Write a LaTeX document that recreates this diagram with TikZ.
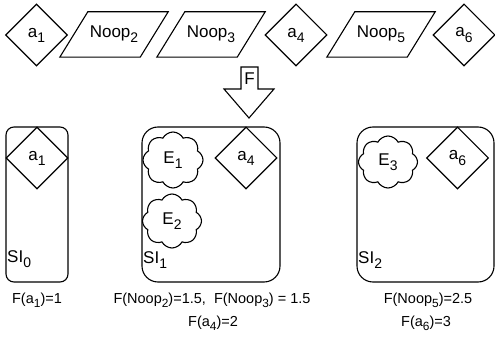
\documentclass[tikz,border=0pt]{standalone}
\usepackage{fontspec}
\usepackage{graphicx}
\setmainfont{Liberation Sans}
\usetikzlibrary{shapes.geometric,shapes.symbols}
\newcommand{\sbx}[1]{\raisebox{-0.3em}{\scalebox{0.82}{#1}}}
\tikzset{
  lw/.style={line width=1.1pt},
  base/.style={draw, lw, inner sep=0pt, font=\fontsize{17}{19}\selectfont},
  act/.style={base, diamond, minimum width=62pt, minimum height=62pt},
  noop/.style={inner sep=0pt, minimum width=80pt, minimum height=45pt, font=\fontsize{17}{19}\selectfont},
  sibox/.style={draw, lw, inner sep=0pt, rounded corners=16pt},
  ev/.style={base, cloud, cloud puffs=8, cloud puff arc=125, aspect=1.1},
  silab/.style={anchor=west, inner sep=1pt, font=\fontsize{17}{19}\selectfont},
  ftxt/.style={inner sep=0pt, font=\fontsize{14.5}{16}\selectfont},
}
\begin{document}
\begin{tikzpicture}[x=1pt,y=-1pt]
\useasboundingbox (0,0) rectangle (495,344);
% top row
\node[act] (t1) at (36.5,35) {a\sbx{1}};
\node[noop] (t2) at (114,34.5) {Noop\sbx{2}};
\node[noop] (t3) at (211,34.5) {Noop\sbx{3}};
\node[act] (t4) at (296,35) {a\sbx{4}};
\node[noop] (t5) at (381,34.5) {Noop\sbx{5}};
\node[act] (t6) at (464,35) {a\sbx{6}};
\foreach \n in {t2,t3,t5}
  \draw[lw] ([xshift=14pt]\n.north west) -- ([xshift=14pt]\n.north east)
            -- ([xshift=-14pt]\n.south east) -- ([xshift=-14pt]\n.south west) -- cycle;
% block arrow
\draw[lw] (241,67) -- (258,67) -- (258,89) -- (274,89) -- (249,118) -- (224,89) -- (241,89) -- cycle;
\node[font=\fontsize{17}{19}\selectfont, inner sep=0pt] (F) at (249.5,79) {F};
% boxes
\node[sibox, rounded corners=8pt, minimum width=62pt, minimum height=155pt] (s0) at (37,204.5) {};
\node[sibox, minimum width=138pt, minimum height=155pt] (s1) at (211,204.5) {};
\node[sibox, minimum width=137pt, minimum height=155pt] (s2) at (425.5,204.5) {};
% contents
\node[act] (b1) at (37,158) {a\sbx{1}};
\node[act] (b4) at (246,158) {a\sbx{4}};
\node[act] (b6) at (457.5,158) {a\sbx{6}};
\node[ev, minimum width=60pt, minimum height=56pt] (e1) at (173,160) {E\sbx{1}};
\node[ev, minimum width=59pt, minimum height=54pt] (e2) at (172,221) {E\sbx{2}};
\node[ev, minimum width=59pt, minimum height=52pt] (e3) at (388,162) {E\sbx{3}};
\node[silab] (l0) at (6,259) {SI\sbx{0}};
\node[silab] (l1) at (142,260) {SI\sbx{1}};
\node[silab] (l2) at (357,260) {SI\sbx{2}};
% formulas
\node[ftxt] (f1) at (37,300) {F(a\sbx{1})=1};
\node[ftxt] (f2) at (212,300) {F(Noop\sbx{2})=1.5,\ \ F(Noop\sbx{3}) = 1.5};
\node[ftxt] (f3) at (213,323) {F(a\sbx{4})=2};
\node[ftxt] (f4) at (428,300) {F(Noop\sbx{5})=2.5};
\node[ftxt] (f5) at (426,323) {F(a\sbx{6})=3};
\end{tikzpicture}
\end{document}
